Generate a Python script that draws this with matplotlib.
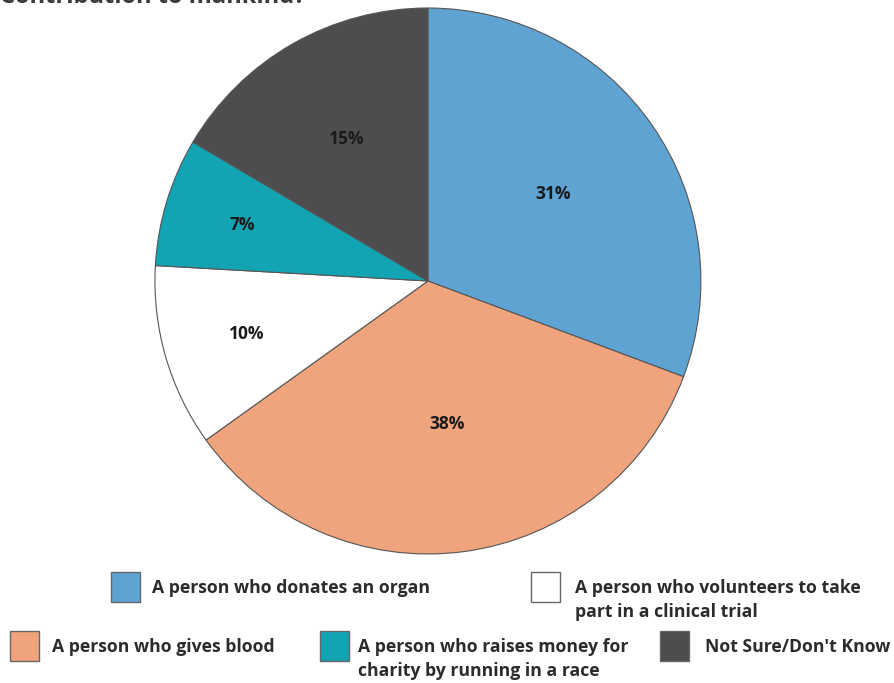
import numpy as np
import matplotlib.pyplot as plt
from matplotlib.patches import Rectangle

# wedge shares as drawn (clockwise from 12 o'clock) and the printed labels
categories = ['A person who donates an organ',
              'A person who gives blood',
              'A person who volunteers to take\npart in a clinical trial',
              'A person who raises money for\ncharity by running in a race',
              "Not Sure/Don't Know"]
shares = [30.7, 34.4, 10.8, 7.6, 16.5]
pct_labels = ['31%', '38%', '10%', '7%', '15%']
colors = ['#5fa3d3', '#f0a47d', '#ffffff', '#13a4b4', '#4d4c4f']
label_dist = [0.56, 0.53, 0.69, 0.71, 0.60]

plt.rcParams['font.family'] = ['Open Sans', 'DejaVu Sans']

fig = plt.figure(figsize=(8.94, 6.83), dpi=100)
ax = fig.add_axes([0.1733, 0.1889, 0.6107, 0.7994])

wedges, _ = ax.pie(shares, colors=colors, startangle=90, counterclock=False,
                   radius=1, wedgeprops=dict(edgecolor='#555555', linewidth=0.8))
ax.set_xlim(-1, 1)
ax.set_ylim(-1, 1)
ax.set_aspect('equal')
ax.axis('off')

for w, lab, d in zip(wedges, pct_labels, label_dist):
    ang = np.deg2rad((w.theta1 + w.theta2) / 2)
    ax.text(d * np.cos(ang), d * np.sin(ang), lab, ha='center', va='center',
            fontsize=12.5, fontweight='bold', color='#1a1a1a')

# title, cut off at the very top as in the source
fig.text(0.0, 1 - 3 / 683, 'Contribution to mankind?', ha='left',
         va='baseline', fontsize=17, fontweight='bold', color='#3a3a3a')

# legend drawn in figure pixels
W, H = 894, 683
legend_items = [
    (0, 111, 572, 152, 588),
    (2, 531, 572, 575, 588),
    (1, 10, 631, 52, 647),
    (3, 320, 631, 358, 647),
    (4, 660, 631, 705, 647),
]
for idx, sx, sy, tx, ty in legend_items:
    fig.patches.append(Rectangle((sx / W, 1 - (sy + 30) / H), 29 / W, 30 / H,
                                 transform=fig.transFigure, facecolor=colors[idx],
                                 edgecolor='#666666', linewidth=1))
    lines = categories[idx].split('\n')
    for k, line in enumerate(lines):
        fig.text(tx / W, 1 - (ty + 24 * k) / H, line, ha='left', va='center',
                 fontsize=12.7, fontweight='bold', color='#2b2b2b')

fig.savefig('out.png', dpi=100, facecolor='white')
